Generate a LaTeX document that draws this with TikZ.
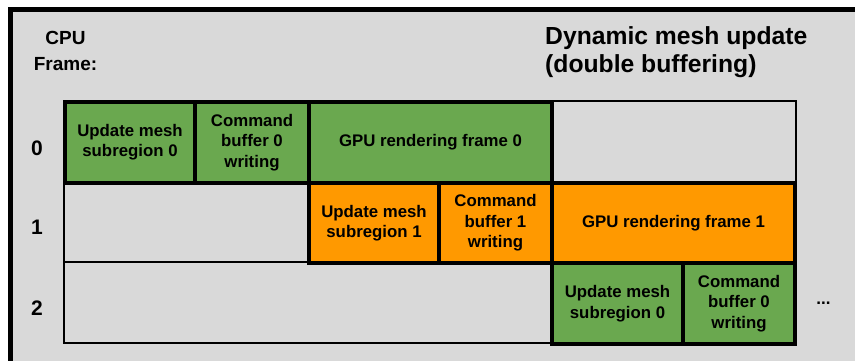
\documentclass[tikz,border=0pt]{standalone}
\usepackage{fontspec}
\setmainfont{Liberation Sans}
\definecolor{bgray}{HTML}{D9D9D9}
\definecolor{tgreen}{HTML}{6AA84F}
\definecolor{torange}{HTML}{FF9900}
\newcommand\bxfont{\bfseries\fontsize{16.8}{20.5}\selectfont}
\newcommand\rowfont{\bfseries\fontsize{21}{24}\selectfont}
\newcommand\ttlfont{\bfseries\fontsize{24.7}{28}\selectfont}
\newcommand\cpufont{\bfseries\fontsize{19}{25.5}\selectfont}
\begin{document}
\begin{tikzpicture}[x=1pt,y=-1pt,
  cell/.style={draw=black, inner sep=0pt, anchor=north west, minimum height=80.7pt, align=center, font=\bxfont, text=black},
  emptycell/.style={cell, fill=bgray, line width=1.5pt},
  gtask/.style={cell, fill=tgreen, line width=4pt},
  otask/.style={cell, fill=torange, line width=4pt},
  rowlab/.style={font=\rowfont, inner sep=0pt, anchor=base},
  ]
\useasboundingbox (0,0) rectangle (855,360);
\clip (0,0) rectangle (855,360);
\draw[line width=4.3pt, fill=bgray] (10.5,9.5) rectangle (880,385);

% labels
\node[font=\cpufont, align=center, anchor=base, inner sep=0pt] (cpu) at (65.5,70) {CPU\\Frame:};
\node[font=\ttlfont, align=left, anchor=base west, inner sep=0pt] (title) at (545,72.5) {Dynamic mesh update\\(double buffering)};

\node[rowlab] (r0) at (37,155) {0};
\node[rowlab] (r1) at (37,234.5) {1};
\node[rowlab] (r2) at (37,315) {2};

% empty cells
\node[emptycell, minimum width=245pt] (e0) at (550,100) {};
\node[emptycell, minimum width=244pt] (e1) at (63,180.7) {};
\node[emptycell, minimum width=487pt] (e2) at (63,261.3) {};

% row 0
\node[gtask, minimum width=130pt] (u0) at (63,100) {Update mesh\\subregion 0};
\node[gtask, minimum width=114pt] (c0) at (193,100) {Command\\buffer 0\\writing};
\node[gtask, minimum width=243pt] (g0) at (307,100) {GPU rendering frame 0};

% row 1
\node[otask, minimum width=130pt] (u1) at (307,180.7) {Update mesh\\subregion 1};
\node[otask, minimum width=113pt] (c1) at (437,180.7) {Command\\buffer 1\\writing};
\node[otask, minimum width=243pt] (g1) at (550,180.7) {GPU rendering frame 1};

% row 2
\node[gtask, minimum width=131pt] (u2) at (550,261.3) {Update mesh\\subregion 0};
\node[gtask, minimum width=112pt] (c2) at (681,261.3) {Command\\buffer 0\\writing};

\node[font=\bfseries\fontsize{17}{18}\selectfont, inner sep=0pt] (dots) at (823.5,303) {...};
\end{tikzpicture}
\end{document}
